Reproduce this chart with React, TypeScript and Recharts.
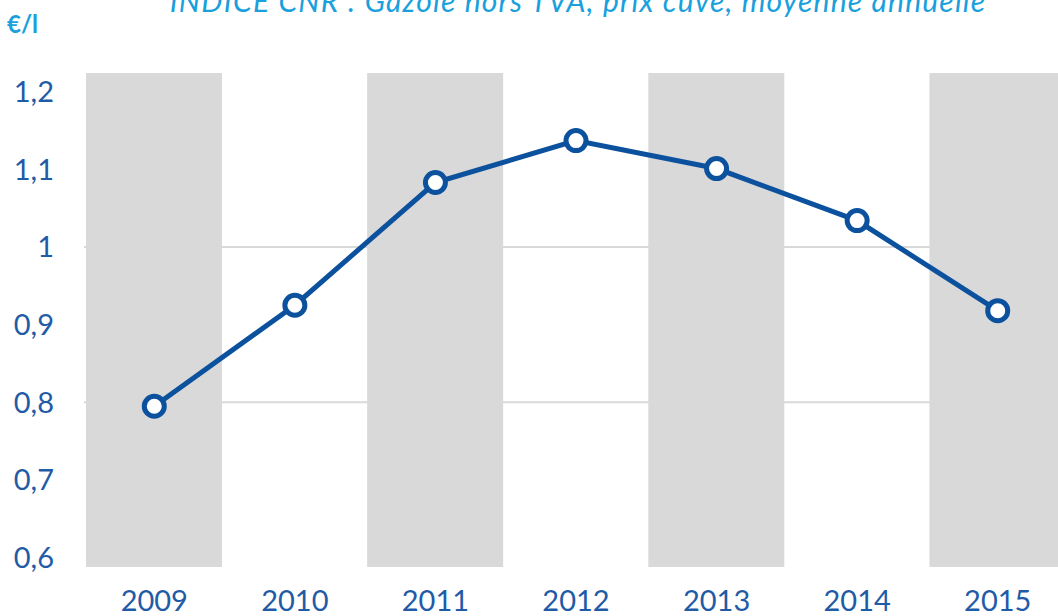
import { ComposedChart, Bar, Line, XAxis, YAxis, CartesianGrid } from 'recharts'

// années et indice CNR gazole (€/l, moyenne annuelle)
const years = ['2009', '2010', '2011', '2012', '2013', '2014', '2015']
const prix = [0.795, 0.925, 1.083, 1.137, 1.101, 1.034, 0.918]
// colonnes grises décoratives (une année sur deux)
const bandes = [1.224, null, 1.224, null, 1.224, null, 1.224]
const yTicks = [0.6, 0.7, 0.8, 0.9, 1, 1.1, 1.2]
const gridValues = [0.8, 1]

const data = years.map((y, i) => ({ annee: y, prix: prix[i], bande: bandes[i] }))

const blue = '#0b519d'
const tickBlue = '#1f5ba6'
const lightBlue = '#1aa0dc'
const font = 'Lato, "DejaVu Sans", sans-serif'

export default function App() {
  return (
    <div
      style={{
        position: 'fixed',
        left: 0,
        top: 0,
        width: 1058,
        height: 616,
        overflow: 'hidden',
        background: '#fff',
        fontFamily: font,
      }}
    >
      <div
        style={{
          position: 'absolute',
          left: 0,
          width: 1156,
          top: -15,
          textAlign: 'center',
          fontStyle: 'italic',
          fontSize: 30,
          letterSpacing: 1.2,
          lineHeight: '30px',
          color: lightBlue,
          whiteSpace: 'nowrap',
        }}
      >
        INDICE CNR : Gazole hors TVA, prix cuve, moyenne annuelle
      </div>
      <div
        style={{
          position: 'absolute',
          left: 7,
          top: 9,
          fontSize: 24,
          fontWeight: 'bold',
          color: lightBlue,
        }}
      >
        €/l
      </div>
      <div style={{ position: 'absolute', left: 0, top: 0 }}>
        <ComposedChart
          width={1068}
          height={616}
          data={data}
          margin={{ top: 73, right: 0, bottom: 0, left: 4 }}
          barSize={136}
        >
          <CartesianGrid
            horizontal
            vertical={false}
            horizontalValues={gridValues}
            stroke="#d9d9d9"
            strokeWidth={2}
          />
          <XAxis
            dataKey="annee"
            axisLine={false}
            tickLine={false}
            height={49}
            tickMargin={17}
            interval={0}
            tick={{ fill: tickBlue, fontSize: 29, fontFamily: font }}
          />
          <YAxis
            type="number"
            domain={[0.588, 1.224]}
            ticks={yTicks}
            allowDataOverflow
            axisLine={false}
            tickLine={false}
            width={80}
            tickMargin={24}
            tickFormatter={(v: number) => String(v).replace('.', ',')}
            tick={{ fill: tickBlue, fontSize: 29, fontFamily: font }}
          />
          <Bar dataKey="bande" fill="#d9d9d9" isAnimationActive={false} />
          <Line
            type="linear"
            dataKey="prix"
            stroke={blue}
            strokeWidth={5}
            dot={{ r: 10, fill: '#fff', stroke: blue, strokeWidth: 5 }}
            activeDot={false}
            isAnimationActive={false}
          />
        </ComposedChart>
      </div>
    </div>
  )
}
